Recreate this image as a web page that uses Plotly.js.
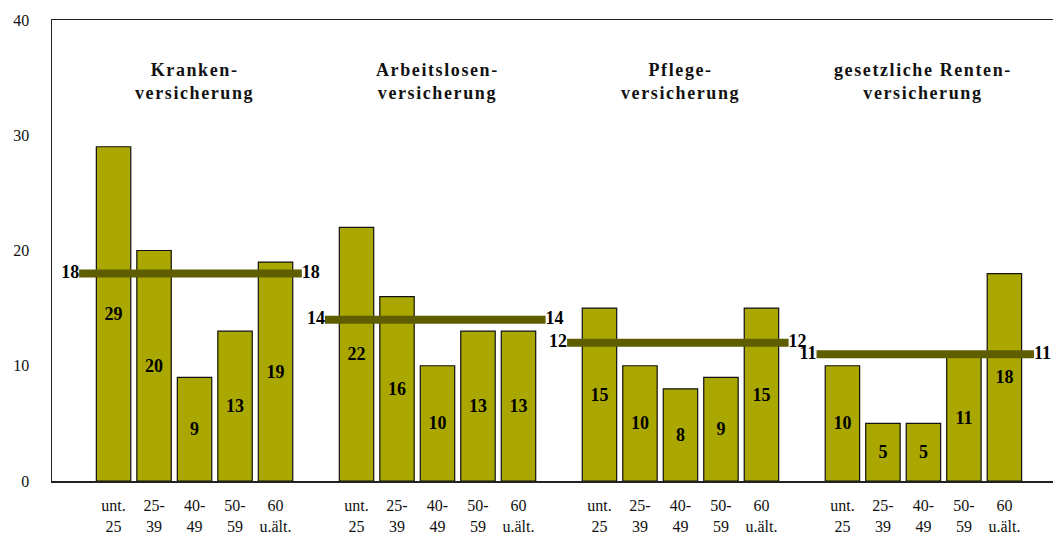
<!DOCTYPE html>
<html>
<head>
<meta charset="utf-8">
<script src="https://cdn.plot.ly/plotly-3.0.1.min.js"></script>
<style>
  html, body { margin: 0; padding: 0; background: #fff; }
  #chart { width: 1053px; height: 535px; }
  .annotation-text { letter-spacing: 1.6px; }
</style>
</head>
<body>
<div id="chart"></div>
<script>
// ---- data ----
const ageGroups = ["unt.<br>25", "25-<br>39", "40-<br>49", "50-<br>59", "60<br>u.ält."];
const insuranceTypes = ["Kranken-<br>versicherung", "Arbeitslosen-<br>versicherung", "Pflege-<br>versicherung", "gesetzliche Renten-<br>versicherung"];
const krankenversicherung = [29, 20, 9, 13, 19];
const arbeitslosenversicherung = [22, 16, 10, 13, 13];
const pflegeversicherung = [15, 10, 8, 9, 15];
const rentenversicherung = [10, 5, 5, 11, 18];
const averages = [18, 14, 12, 11];
const yTicks = [0, 10, 20, 30, 40];

// ---- layout constants ----
const seriesList = [krankenversicherung, arbeitslosenversicherung, pflegeversicherung, rentenversicherung];
const groupStep = 6;
const lineStartOffsets = [-0.85, -0.78, -0.8, -0.64];
const lineEndOffsets = [4.65, 4.67, 4.67, 4.73];
const barColor = "#aaa800";
const lineColor = "#5e5e00";
const serif = "'Liberation Serif', 'Times New Roman', serif";

const traces = [];
const tickvals = [], ticktext = [];
seriesList.forEach((vals, gi) => {
  const xs = vals.map((_, ci) => gi * groupStep + ci);
  xs.forEach((x, ci) => { tickvals.push(x); ticktext.push(ageGroups[ci]); });
  traces.push({
    type: "bar",
    x: xs,
    y: vals,
    width: 0.85,
    marker: { color: barColor, line: { color: "#111", width: 1.2 } },
    text: vals.map(String),
    textposition: "inside",
    insidetextanchor: "middle",
    textangle: 0,
    constraintext: "none",
    textfont: { family: serif, size: 18, color: "#000", weight: "bold" },
    hoverinfo: "skip",
    showlegend: false
  });
});
averages.forEach((avg, gi) => {
  const x0 = gi * groupStep + lineStartOffsets[gi], x1 = gi * groupStep + lineEndOffsets[gi];
  traces.push({
    type: "scatter",
    mode: "lines+text",
    x: [x0, x1],
    y: [avg, avg],
    line: { color: lineColor, width: 8 },
    text: [String(avg), String(avg)],
    textposition: ["middle left", "middle right"],
    textfont: { family: serif, size: 18, color: "#000", weight: "bold" },
    cliponaxis: false,
    hoverinfo: "skip",
    showlegend: false
  });
});

const annotations = insuranceTypes.map((t, gi) => ({
  x: gi * groupStep + 2,
  y: 34.7,
  xref: "x", yref: "y",
  text: t,
  showarrow: false,
  xanchor: "center",
  yanchor: "middle",
  align: "center",
  font: { family: serif, size: 18, color: "#111", weight: "bold" }
}));

const layout = {
  width: 1053,
  height: 535,
  margin: { l: 52, r: 0, t: 20, b: 54 },
  paper_bgcolor: "#fff",
  plot_bgcolor: "#fff",
  showlegend: false,
  bargap: 0,
  xaxis: {
    range: [-1.52, 23.2],
    tickvals: tickvals,
    ticktext: ticktext,
    ticks: "",
    showgrid: false,
    zeroline: false,
    showline: true,
    mirror: true,
    linecolor: "#222",
    linewidth: 1.5,
    ticklabelstandoff: 9,
    tickfont: { family: serif, size: 16, color: "#111" }
  },
  yaxis: {
    range: [0, 40],
    tickvals: yTicks,
    ticks: "",
    showgrid: false,
    zeroline: false,
    showline: true,
    linecolor: "#222",
    linewidth: 1.5,
    ticklabelstandoff: 18,
    tickfont: { family: serif, size: 16, color: "#111" }
  },
  annotations: annotations
};

Plotly.newPlot("chart", traces, layout, { staticPlot: true, displayModeBar: false });
</script>
</body>
</html>
